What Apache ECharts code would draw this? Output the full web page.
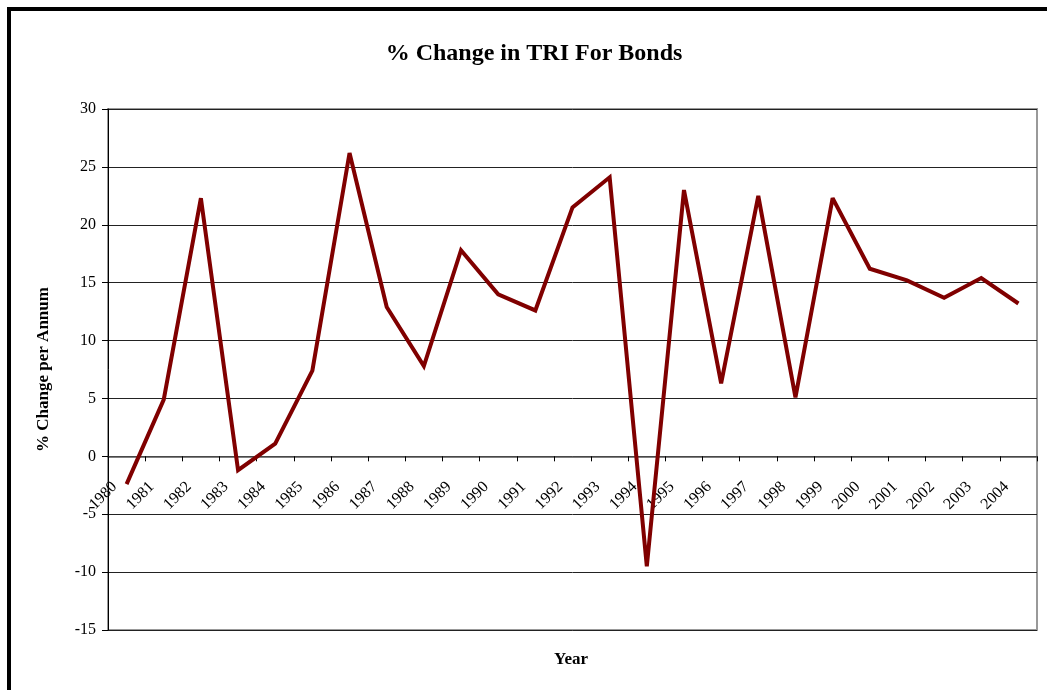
<!DOCTYPE html>
<html>
<head>
<meta charset="utf-8">
<script src="https://cdn.jsdelivr.net/npm/echarts@6/dist/echarts.min.js"></script>
<style>
  html, body { margin: 0; padding: 0; background: #fff; }
  #chart { width: 1047px; height: 690px; }
</style>
</head>
<body>
<div id="chart"></div>
<script>
// Annual % change in the total return index for bonds
const years = ['1980','1981','1982','1983','1984','1985','1986','1987','1988','1989',
               '1990','1991','1992','1993','1994','1995','1996','1997','1998','1999',
               '2000','2001','2002','2003','2004'];
const pctChange = [-2.4, 4.9, 22.3, -1.2, 1.1, 7.4, 26.2, 12.9, 7.8, 17.8,
                   14.0, 12.6, 21.5, 24.1, -9.5, 23.0, 6.3, 22.5, 5.1, 22.3,
                   16.2, 15.2, 13.7, 15.4, 13.2];
const yTicks = { min: -15, max: 30, step: 5 };

const serif = '"Liberation Serif", "Times New Roman", serif';
const GRID_TOP = 109, GRID_BOTTOM = 60, CHART_H = 690;

const chart = echarts.init(document.getElementById('chart'));

// The category axis sits on the zero line; its offset is derived from the value scale.
const plotH = CHART_H - GRID_TOP - GRID_BOTTOM;
const zeroOffset = -plotH * (0 - yTicks.min) / (yTicks.max - yTicks.min);

chart.setOption({
  backgroundColor: '#fff',
  animation: false,
  title: {
    text: '% Change in TRI For Bonds',
    left: 529, top: 37, textAlign: 'center',
    textStyle: { fontFamily: serif, fontWeight: 'bold', fontSize: 24, color: '#000' }
  },
  grid: {
    left: 108, right: 10, top: GRID_TOP, bottom: GRID_BOTTOM,
    show: true, borderColor: '#999', borderWidth: 2, backgroundColor: 'transparent'
  },
  xAxis: {
    type: 'category',
    data: years,
    boundaryGap: true,
    position: 'bottom',
    offset: zeroOffset,
    axisLine: { onZero: false, lineStyle: { color: '#555', width: 1.5 } },
    axisTick: { show: true, length: 5, lineStyle: { color: '#000' } },
    axisLabel: {
      rotate: 45, margin: 16, padding: [0, 17, 0, 0],
      fontFamily: serif, fontSize: 16, color: '#000'
    },
    splitLine: { show: false }
  },
  yAxis: {
    type: 'value',
    min: yTicks.min, max: yTicks.max, interval: yTicks.step,
    name: '% Change per Annum',
    nameLocation: 'middle',
    nameGap: 56,
    nameTextStyle: { fontFamily: serif, fontWeight: 'bold', fontSize: 17, color: '#000' },
    axisLine: { show: true, onZero: false, lineStyle: { color: '#000', width: 1 } },
    axisTick: { show: true, inside: false, length: 6, lineStyle: { color: '#000' } },
    axisLabel: { margin: 12, fontFamily: serif, fontSize: 16, color: '#000' },
    splitLine: { show: true, lineStyle: { color: '#222', width: 1 } }
  },
  series: [{
    type: 'line',
    data: pctChange,
    showSymbol: false,
    symbol: 'none',
    lineStyle: { color: '#800000', width: 4, join: 'miter', miterLimit: 2.5 },
    z: 5
  }],
  graphic: [
    // outer frame (left and top edges)
    { type: 'line', shape: { x1: 9, y1: 9, x2: 1047, y2: 9 }, style: { stroke: '#000', lineWidth: 4 } },
    { type: 'line', shape: { x1: 9, y1: 7, x2: 9, y2: 690 }, style: { stroke: '#000', lineWidth: 4 } },
    // x-axis caption below the plot
    { type: 'text', left: 554, top: 651,
      style: { text: 'Year', font: 'bold 17px "Liberation Serif", serif', fill: '#000' } }
  ]
});
</script>
</body>
</html>
